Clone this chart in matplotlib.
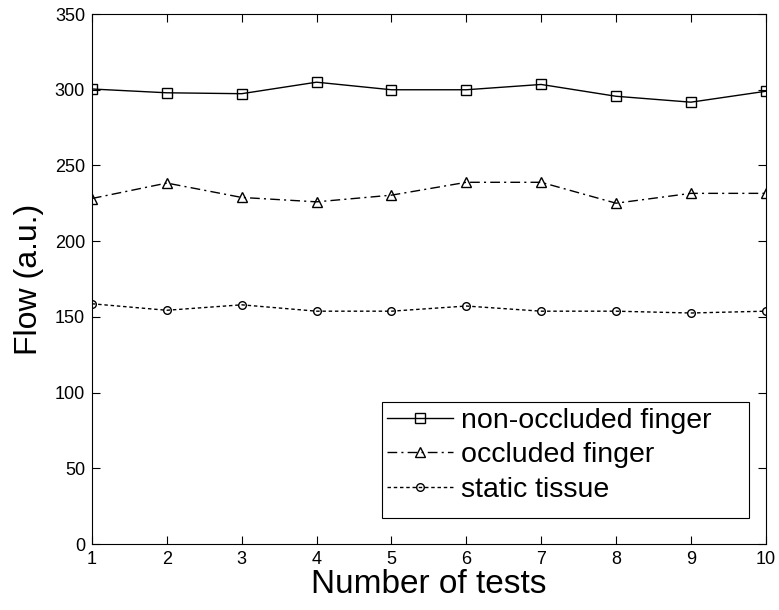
import matplotlib
matplotlib.use('Agg')
import matplotlib.pyplot as plt
from matplotlib.patches import Rectangle

plt.rcParams['font.family'] = ['Liberation Sans', 'DejaVu Sans']

tests = [1, 2, 3, 4, 5, 6, 7, 8, 9, 10]
non_occluded = [300.5, 298, 297.4, 305, 300, 300, 303.5, 295.7, 291.8, 299]
occluded = [228.2, 238.4, 228.9, 226, 230.4, 238.9, 238.9, 225.1, 231.6, 231.6]
static = [158.7, 154.4, 158, 153.8, 153.8, 157.2, 153.8, 153.8, 152.6, 153.8]

fig = plt.figure(figsize=(7.79, 6.10), dpi=100)
ax = fig.add_axes([0.118, 0.108, 0.865, 0.869])

ax.plot(tests, non_occluded, color='black', lw=1, ls='-', marker='s',
        ms=7, mfc='none', mec='black', label='non-occluded finger')
ax.plot(tests, occluded, color='black', lw=1, ls=(0, (7, 3, 1.5, 3)), marker='^',
        ms=7, mfc='none', mec='black', label='occluded finger')
ax.plot(tests, static, color='black', lw=1, ls=(0, (2.5, 2)), marker='o',
        ms=5.5, mfc='none', mec='black', label='static tissue')

ax.set_xlim(1, 10)
ax.set_ylim(0, 350)
ax.set_xticks(tests)
ax.set_yticks(range(0, 351, 50))
ax.tick_params(direction='in', top=True, right=True, labelsize=13, length=6, pad=5)
ax.set_xlabel('Number of tests', fontsize=24, labelpad=1)
ax.set_ylabel('Flow (a.u.)', fontsize=23, labelpad=8)

# legend box drawn by hand (matlab style box is wider than the text)
box = Rectangle((0.430, 0.049), 0.5445, 0.219, transform=ax.transAxes,
                facecolor='white', edgecolor='black', lw=0.8, zorder=4)
ax.add_patch(box)
leg = ax.legend(loc='upper left', bbox_to_anchor=(0.430, 0.268), frameon=False,
                fontsize=20.5, handlelength=2.3, borderpad=0.2, borderaxespad=0,
                labelspacing=0.3, handletextpad=0.3)
leg.set_zorder(5)

fig.savefig('out.png', dpi=100)
